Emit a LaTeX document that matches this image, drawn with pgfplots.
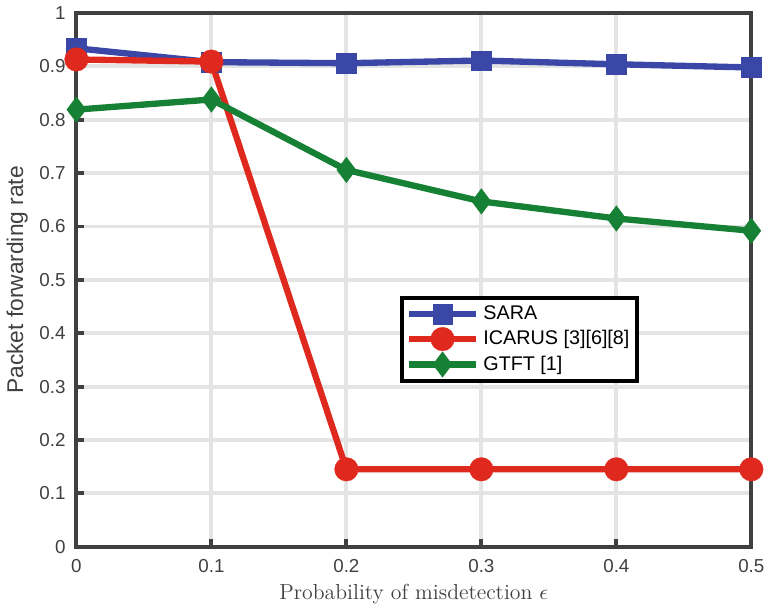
\documentclass[border=0pt]{standalone}
\usepackage{fontspec}
\usepackage{pgfplots}
\pgfplotsset{compat=1.18}
\newfontfamily\lib{Liberation Sans}
\definecolor{cblue}{RGB}{59,71,166}
\definecolor{cred}{RGB}{224,41,30}
\definecolor{cgreen}{RGB}{22,128,52}
\definecolor{cgrid}{RGB}{228,228,228}
\definecolor{cax}{RGB}{64,64,64}
\begin{document}
\begin{tikzpicture}
\begin{axis}[
  width=341.5pt, height=270pt, scale only axis,
  xmin=0, xmax=0.5, ymin=0, ymax=1,
  xtick={0,0.1,...,0.5}, ytick={0,0.1,...,1},
  xticklabels={0,0.1,0.2,0.3,0.4,0.5},
  yticklabels={0,0.1,0.2,0.3,0.4,0.5,0.6,0.7,0.8,0.9,1},
  tick label style={font=\lib\fontsize{9.5}{11}\selectfont, text=cax},
  xticklabel style={yshift=-3pt},
  yticklabel style={xshift=-2pt},
  /pgf/number format/assume math mode=true,
  xtick pos=left, ytick pos=left, tick align=inside,
  major tick length=4pt,
  tick style={line width=2pt, color=cax},
  axis line style={line width=2pt, color=cax},
  grid=major,
  major grid style={line width=2pt, color=cgrid},
  xlabel={Probability of misdetection $\epsilon$},
  ylabel={\lib Packet forwarding rate},
  xlabel style={font=\fontsize{11}{13}\selectfont, text=cax, yshift=1pt},
  ylabel style={font=\fontsize{11.5}{13}\selectfont, text=cax, yshift=-1pt},
  legend style={at={(rel axis cs:0.479,0.470)}, anchor=north west,
    draw=black, line width=2pt, fill=white,
    font=\lib\fontsize{10}{13}\selectfont, row sep=0pt, inner sep=2pt},
  legend cell align=left,
  legend image code/.code={
    \draw[mark repeat=2,mark phase=2] plot coordinates {(0cm,0cm) (0.6cm,0cm) (1.2cm,0cm)};
  },
]
\addplot[cblue, line width=3.2pt, mark=square*, mark size=5pt, mark options={solid, line width=0.1pt}] coordinates {
(0,0.934) (0.1,0.908) (0.2,0.906) (0.3,0.911) (0.4,0.904) (0.5,0.898)};
\addlegendentry{SARA}
\addplot[cred, line width=3.2pt, mark=*, mark size=6pt, mark options={solid, line width=0.1pt}] coordinates {
(0,0.913) (0.1,0.909) (0.2,0.145) (0.3,0.145) (0.4,0.145) (0.5,0.145)};
\addlegendentry{ICARUS [3][6][8]}
\addplot[cgreen, line width=3.2pt, mark=diamond*, mark size=6.5pt, mark options={solid, line width=0.1pt}] coordinates {
(0,0.819) (0.1,0.838) (0.2,0.706) (0.3,0.647) (0.4,0.615) (0.5,0.592)};
\addlegendentry{GTFT [1]}
\end{axis}
\end{tikzpicture}
\end{document}
